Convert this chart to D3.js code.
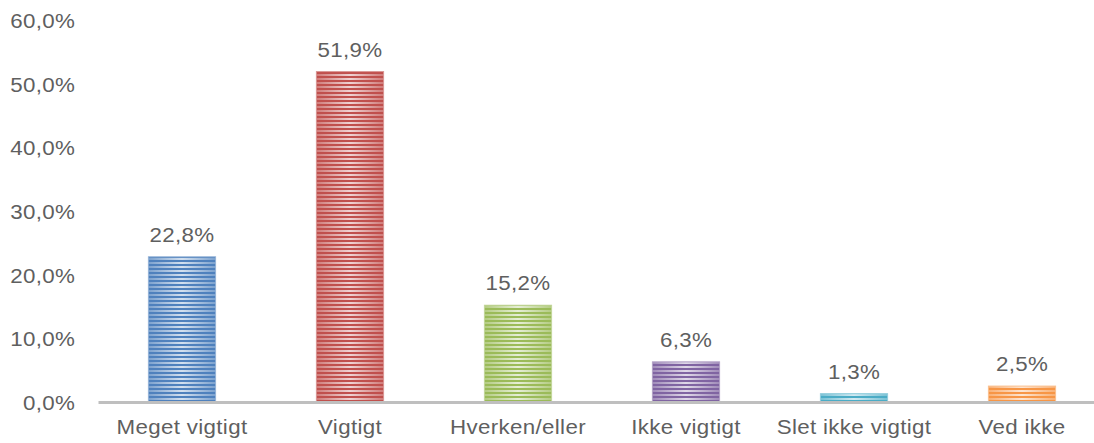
<!DOCTYPE html>
<html>
<head>
<meta charset="utf-8">
<script src="https://cdn.jsdelivr.net/npm/d3@7"></script>
<style>
  body { margin: 0; background: #fff; }
  text { font-family: "Liberation Sans", Arial, sans-serif; fill: #5f5f5f; letter-spacing: 0.3px; }
</style>
</head>
<body>
<script>
var categories = ["Meget vigtigt", "Vigtigt", "Hverken/eller", "Ikke vigtigt", "Slet ikke vigtigt", "Ved ikke"];
var values = [22.8, 51.9, 15.2, 6.3, 1.3, 2.5];
var colors = ["#4F81BD", "#C0504D", "#9BBB59", "#8064A2", "#4BACC6", "#F79646"];
var yTicks = [0, 10, 20, 30, 40, 50, 60];

var svgW = 1094;
var svgH = 443;
var margin = { top: 20, right: -12, bottom: 41, left: 98 };
var chartWidth = svgW - margin.left - margin.right;
var chartHeight = svgH - margin.top - margin.bottom;

var svg = d3.select("body")
  .append("svg")
  .attr("width", svgW)
  .attr("height", svgH);

var defs = svg.append("defs");
var fmt = function (v) { return v.toFixed(1).replace(".", ",") + "%"; };
var stretch = "scale(1.09,1)";

// striped fill per series
colors.forEach(function (c, i) {
  var grad = defs.append("linearGradient")
    .attr("id", "g" + i)
    .attr("x1", 0).attr("x2", 1).attr("y1", 0).attr("y2", 0);
  grad.append("stop").attr("offset", "0%").attr("stop-color", d3.interpolateRgb(c, "#fff")(0.25));
  grad.append("stop").attr("offset", "50%").attr("stop-color", d3.interpolateRgb(c, "#fff")(0.75));
  grad.append("stop").attr("offset", "100%").attr("stop-color", d3.interpolateRgb(c, "#fff")(0.25));

  var pat = defs.append("pattern")
    .attr("id", "p" + i)
    .attr("patternUnits", "userSpaceOnUse")
    .attr("width", 4).attr("height", 4);
  pat.append("rect").attr("width", 4).attr("height", 2).attr("fill", c);
});

var g = svg.append("g")
  .attr("transform", "translate(" + margin.left + "," + margin.top + ")");

var xScale = d3.scaleBand()
  .domain(categories)
  .range([0, chartWidth])
  .paddingInner(0.6)
  .paddingOuter(0.3);

var yScale = d3.scaleLinear()
  .domain([0, 60])
  .range([chartHeight, 0]);

// y axis labels
var yAxis = d3.axisLeft(yScale)
  .tickValues(yTicks)
  .tickSize(0)
  .tickPadding(21)
  .tickFormat(fmt);

var yG = g.append("g").call(yAxis);
yG.select(".domain").remove();
yG.selectAll("text")
  .style("font-size", "20.5px")
  .attr("fill", "#5f5f5f")
  .attr("dy", "0.36em")
  .attr("transform", stretch);

// bars
var bars = g.selectAll(".bar")
  .data(values)
  .enter()
  .append("g");

bars.append("rect")
  .attr("x", function (d, i) { return xScale(categories[i]); })
  .attr("y", function (d) { return yScale(d); })
  .attr("width", xScale.bandwidth())
  .attr("height", function (d) { return chartHeight - yScale(d); })
  .attr("fill", function (d, i) { return "url(#g" + i + ")"; });

bars.append("rect")
  .attr("x", function (d, i) { return xScale(categories[i]); })
  .attr("y", function (d) { return yScale(d); })
  .attr("width", xScale.bandwidth())
  .attr("height", function (d) { return chartHeight - yScale(d); })
  .attr("fill", function (d, i) { return "url(#p" + i + ")"; })
  .attr("stroke", function (d, i) { return d3.interpolateRgb(colors[i], "#fff")(0.4); })
  .attr("stroke-width", 1);

bars.append("text")
  .attr("transform", function (d, i) {
    return "translate(" + (xScale(categories[i]) + xScale.bandwidth() / 2) + "," + (yScale(d) - 15) + ")" + stretch;
  })
  .attr("text-anchor", "middle")
  .style("font-size", "20.5px")
  .text(function (d) { return fmt(d); });

// x axis
var xAxis = d3.axisBottom(xScale).tickSize(0).tickPadding(17);
var xG = g.append("g")
  .attr("transform", "translate(0," + chartHeight + ")")
  .call(xAxis);
xG.select(".domain").attr("stroke", "#BFBFBF").attr("stroke-width", 3);
xG.selectAll("text")
  .style("font-size", "20.5px")
  .attr("fill", "#5f5f5f")
  .attr("transform", stretch);
</script>
</body>
</html>
